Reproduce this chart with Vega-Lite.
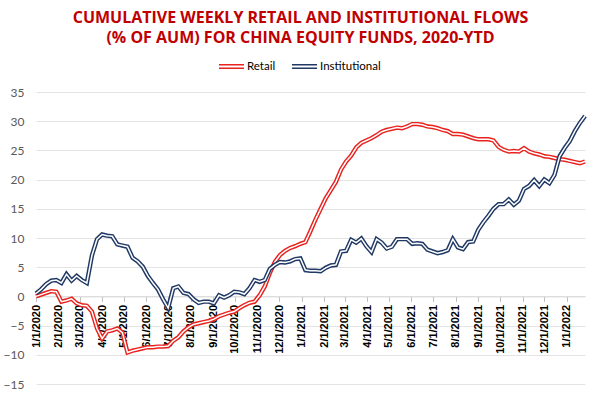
{
  "$schema": "https://vega.github.io/schema/vega-lite/v6.json",
  "width": 549,
  "height": 292,
  "autosize": {"type": "none"},
  "padding": {"left": 36, "top": 92, "right": 15, "bottom": 15},
  "background": "white",
  "title": {
    "text": ["CUMULATIVE WEEKLY RETAIL AND INSTITUTIONAL FLOWS", "(% OF AUM) FOR CHINA EQUITY FUNDS, 2020-YTD"],
    "font": "Open Sans",
    "fontSize": 16,
    "fontWeight": "bold",
    "color": "#C00000",
    "anchor": "middle",
    "lineHeight": 20,
    "offset": 7,
    "dx": -10
  },
  "data": {
    "values": [
      {"d": "2020-01-01", "Retail": 0.0, "Institutional": 0.5},
      {"d": "2020-01-08", "Retail": 0.3, "Institutional": 1.2},
      {"d": "2020-01-15", "Retail": 0.6, "Institutional": 2.1},
      {"d": "2020-01-22", "Retail": 0.9, "Institutional": 2.7},
      {"d": "2020-01-29", "Retail": 0.8, "Institutional": 2.8},
      {"d": "2020-02-05", "Retail": -0.9, "Institutional": 2.3},
      {"d": "2020-02-12", "Retail": -0.7, "Institutional": 3.8},
      {"d": "2020-02-19", "Retail": -0.4, "Institutional": 2.7},
      {"d": "2020-02-26", "Retail": -1.2, "Institutional": 3.5},
      {"d": "2020-03-04", "Retail": -1.5, "Institutional": 2.8},
      {"d": "2020-03-11", "Retail": -1.6, "Institutional": 2.3},
      {"d": "2020-03-18", "Retail": -2.6, "Institutional": 7.0},
      {"d": "2020-03-25", "Retail": -5.5, "Institutional": 9.8},
      {"d": "2020-04-01", "Retail": -7.2, "Institutional": 10.6},
      {"d": "2020-04-08", "Retail": -6.0, "Institutional": 10.4},
      {"d": "2020-04-15", "Retail": -5.8, "Institutional": 10.3},
      {"d": "2020-04-22", "Retail": -5.5, "Institutional": 8.9},
      {"d": "2020-04-29", "Retail": -6.2, "Institutional": 8.7},
      {"d": "2020-05-06", "Retail": -9.6, "Institutional": 8.5},
      {"d": "2020-05-13", "Retail": -9.3, "Institutional": 6.6},
      {"d": "2020-05-20", "Retail": -9.1, "Institutional": 6.0},
      {"d": "2020-05-27", "Retail": -8.9, "Institutional": 5.1},
      {"d": "2020-06-03", "Retail": -8.7, "Institutional": 3.5},
      {"d": "2020-06-10", "Retail": -8.7, "Institutional": 2.3},
      {"d": "2020-06-17", "Retail": -8.6, "Institutional": 1.2},
      {"d": "2020-06-24", "Retail": -8.6, "Institutional": -0.5},
      {"d": "2020-07-01", "Retail": -8.5, "Institutional": -2.0},
      {"d": "2020-07-08", "Retail": -7.6, "Institutional": 1.4},
      {"d": "2020-07-15", "Retail": -7.0, "Institutional": 1.7},
      {"d": "2020-07-22", "Retail": -6.0, "Institutional": 0.6},
      {"d": "2020-07-29", "Retail": -5.3, "Institutional": 0.4},
      {"d": "2020-08-05", "Retail": -4.8, "Institutional": -0.5},
      {"d": "2020-08-12", "Retail": -4.6, "Institutional": -1.1},
      {"d": "2020-08-19", "Retail": -4.4, "Institutional": -0.9},
      {"d": "2020-08-26", "Retail": -4.2, "Institutional": -0.9},
      {"d": "2020-09-02", "Retail": -3.9, "Institutional": -1.2},
      {"d": "2020-09-09", "Retail": -3.4, "Institutional": 0.2},
      {"d": "2020-09-16", "Retail": -3.1, "Institutional": -0.2},
      {"d": "2020-09-23", "Retail": -2.8, "Institutional": 0.2},
      {"d": "2020-09-30", "Retail": -2.6, "Institutional": 0.8},
      {"d": "2020-10-07", "Retail": -2.0, "Institutional": 0.7},
      {"d": "2020-10-14", "Retail": -1.5, "Institutional": 0.4},
      {"d": "2020-10-21", "Retail": -1.1, "Institutional": 1.4},
      {"d": "2020-10-28", "Retail": -0.9, "Institutional": 2.8},
      {"d": "2020-11-04", "Retail": 0.2, "Institutional": 2.5},
      {"d": "2020-11-11", "Retail": 1.7, "Institutional": 2.8},
      {"d": "2020-11-18", "Retail": 4.0, "Institutional": 4.7},
      {"d": "2020-11-25", "Retail": 5.9, "Institutional": 5.4},
      {"d": "2020-12-02", "Retail": 7.1, "Institutional": 5.9},
      {"d": "2020-12-09", "Retail": 7.8, "Institutional": 5.8},
      {"d": "2020-12-16", "Retail": 8.3, "Institutional": 6.0},
      {"d": "2020-12-23", "Retail": 8.6, "Institutional": 6.4},
      {"d": "2020-12-30", "Retail": 9.0, "Institutional": 6.5},
      {"d": "2021-01-06", "Retail": 9.3, "Institutional": 4.5},
      {"d": "2021-01-13", "Retail": 11.2, "Institutional": 4.4},
      {"d": "2021-01-20", "Retail": 13.2, "Institutional": 4.4},
      {"d": "2021-01-27", "Retail": 15.0, "Institutional": 4.3},
      {"d": "2021-02-03", "Retail": 16.8, "Institutional": 4.9},
      {"d": "2021-02-10", "Retail": 18.2, "Institutional": 5.3},
      {"d": "2021-02-17", "Retail": 19.6, "Institutional": 5.4},
      {"d": "2021-02-24", "Retail": 21.7, "Institutional": 7.7},
      {"d": "2021-03-03", "Retail": 23.1, "Institutional": 7.8},
      {"d": "2021-03-10", "Retail": 24.1, "Institutional": 9.7},
      {"d": "2021-03-17", "Retail": 25.5, "Institutional": 9.2},
      {"d": "2021-03-24", "Retail": 26.3, "Institutional": 9.9},
      {"d": "2021-03-31", "Retail": 26.7, "Institutional": 8.6},
      {"d": "2021-04-07", "Retail": 27.1, "Institutional": 7.6},
      {"d": "2021-04-14", "Retail": 27.6, "Institutional": 9.8},
      {"d": "2021-04-21", "Retail": 28.2, "Institutional": 9.2},
      {"d": "2021-04-28", "Retail": 28.5, "Institutional": 8.2},
      {"d": "2021-05-05", "Retail": 28.7, "Institutional": 8.5},
      {"d": "2021-05-12", "Retail": 28.9, "Institutional": 9.8},
      {"d": "2021-05-19", "Retail": 28.8, "Institutional": 9.8},
      {"d": "2021-05-26", "Retail": 29.1, "Institutional": 9.8},
      {"d": "2021-06-02", "Retail": 29.5, "Institutional": 9.0},
      {"d": "2021-06-09", "Retail": 29.5, "Institutional": 9.1},
      {"d": "2021-06-16", "Retail": 29.4, "Institutional": 9.0},
      {"d": "2021-06-23", "Retail": 29.1, "Institutional": 8.0},
      {"d": "2021-06-30", "Retail": 29.0, "Institutional": 7.7},
      {"d": "2021-07-07", "Retail": 28.8, "Institutional": 7.4},
      {"d": "2021-07-14", "Retail": 28.5, "Institutional": 7.6},
      {"d": "2021-07-21", "Retail": 28.3, "Institutional": 7.9},
      {"d": "2021-07-28", "Retail": 27.8, "Institutional": 9.8},
      {"d": "2021-08-04", "Retail": 27.8, "Institutional": 8.4},
      {"d": "2021-08-11", "Retail": 27.7, "Institutional": 8.1},
      {"d": "2021-08-18", "Retail": 27.4, "Institutional": 9.3},
      {"d": "2021-08-25", "Retail": 27.1, "Institutional": 9.4},
      {"d": "2021-09-01", "Retail": 26.9, "Institutional": 11.4},
      {"d": "2021-09-08", "Retail": 26.9, "Institutional": 12.7},
      {"d": "2021-09-15", "Retail": 26.9, "Institutional": 13.8},
      {"d": "2021-09-22", "Retail": 26.7, "Institutional": 15.0},
      {"d": "2021-09-29", "Retail": 25.6, "Institutional": 15.8},
      {"d": "2021-10-06", "Retail": 25.1, "Institutional": 15.8},
      {"d": "2021-10-13", "Retail": 24.8, "Institutional": 16.6},
      {"d": "2021-10-20", "Retail": 24.9, "Institutional": 15.7},
      {"d": "2021-10-27", "Retail": 24.8, "Institutional": 16.4},
      {"d": "2021-11-03", "Retail": 25.4, "Institutional": 18.4},
      {"d": "2021-11-10", "Retail": 24.8, "Institutional": 18.9},
      {"d": "2021-11-17", "Retail": 24.5, "Institutional": 19.9},
      {"d": "2021-11-24", "Retail": 24.3, "Institutional": 18.9},
      {"d": "2021-12-01", "Retail": 24.0, "Institutional": 20.0},
      {"d": "2021-12-08", "Retail": 23.9, "Institutional": 19.4},
      {"d": "2021-12-15", "Retail": 23.7, "Institutional": 20.8},
      {"d": "2021-12-22", "Retail": 23.5, "Institutional": 24.0},
      {"d": "2021-12-29", "Retail": 23.4, "Institutional": 25.4},
      {"d": "2022-01-05", "Retail": 23.2, "Institutional": 26.6},
      {"d": "2022-01-12", "Retail": 23.0, "Institutional": 28.3},
      {"d": "2022-01-19", "Retail": 22.8, "Institutional": 29.7},
      {"d": "2022-01-26", "Retail": 23.1, "Institutional": 30.9}
    ]
  },
  "transform": [{"fold": ["Retail", "Institutional"], "as": ["series", "value"]}],
  "encoding": {
    "x": {
      "field": "d",
      "type": "temporal",
      "scale": {
        "type": "utc",
        "domain": [
          {"year": 2020, "month": 1, "date": 1, "utc": true},
          {"year": 2022, "month": 1, "date": 26, "utc": true}
        ]
      },
      "axis": {
        "title": null,
        "orient": "bottom",
        "offset": -87.6,
        "format": "%-m/%-d/%Y",
        "tickCount": {"interval": "month", "step": 1},
        "labelAngle": -90,
        "labelFont": "Liberation Sans",
        "labelFontWeight": "bold",
        "labelFontSize": 11,
        "labelColor": "#000000",
        "labelPadding": 3,
        "labelOverlap": false,
        "labelFlush": false,
        "labelBound": false,
        "tickSize": 5,
        "tickColor": "#BFBFBF",
        "domainColor": "#D9D9D9",
        "grid": false
      }
    },
    "y": {
      "field": "value",
      "type": "quantitative",
      "scale": {"domain": [-15, 35], "nice": false, "zero": false},
      "axis": {
        "title": null,
        "values": [-15, -10, -5, 0, 5, 10, 15, 20, 25, 30, 35],
        "domain": false,
        "ticks": false,
        "tickSize": 0,
        "labelPadding": 12,
        "labelColor": "#595959",
        "labelFont": "Lato",
        "labelFontSize": 12,
        "grid": true,
        "gridColor": "#E4E4E4"
      }
    }
  },
  "layer": [
    {
      "transform": [{"filter": "datum.series === 'Retail'"}],
      "mark": {"type": "line", "strokeWidth": 4.4},
      "encoding": {
        "color": {
          "field": "series",
          "type": "nominal",
          "scale": {"domain": ["Retail", "Institutional"], "range": ["#E8221E", "#1F3864"]},
          "legend": {
            "title": null,
            "orient": "none",
            "legendX": 182,
            "legendY": -39,
            "direction": "horizontal",
            "gridAlign": "none",
            "symbolType": "M-1,-0.14H1M-1,0.14H1",
            "symbolSize": 625,
            "symbolStrokeWidth": 1.5,
            "labelFont": "Lato",
            "labelFontSize": 11.5,
            "labelColor": "#000000",
            "labelOffset": 2,
            "columnPadding": 13,
            "padding": 0
          }
        }
      }
    },
    {
      "transform": [{"filter": "datum.series === 'Retail'"}],
      "mark": {"type": "line", "strokeWidth": 1.5, "color": "white"},
      "encoding": {}
    },
    {
      "transform": [{"filter": "datum.series === 'Institutional'"}],
      "mark": {"type": "line", "strokeWidth": 4.4},
      "encoding": {
        "color": {"field": "series", "type": "nominal"}
      }
    },
    {
      "transform": [{"filter": "datum.series === 'Institutional'"}],
      "mark": {"type": "line", "strokeWidth": 1.5, "color": "white"},
      "encoding": {}
    }
  ],
  "config": {"view": {"stroke": null}}
}
